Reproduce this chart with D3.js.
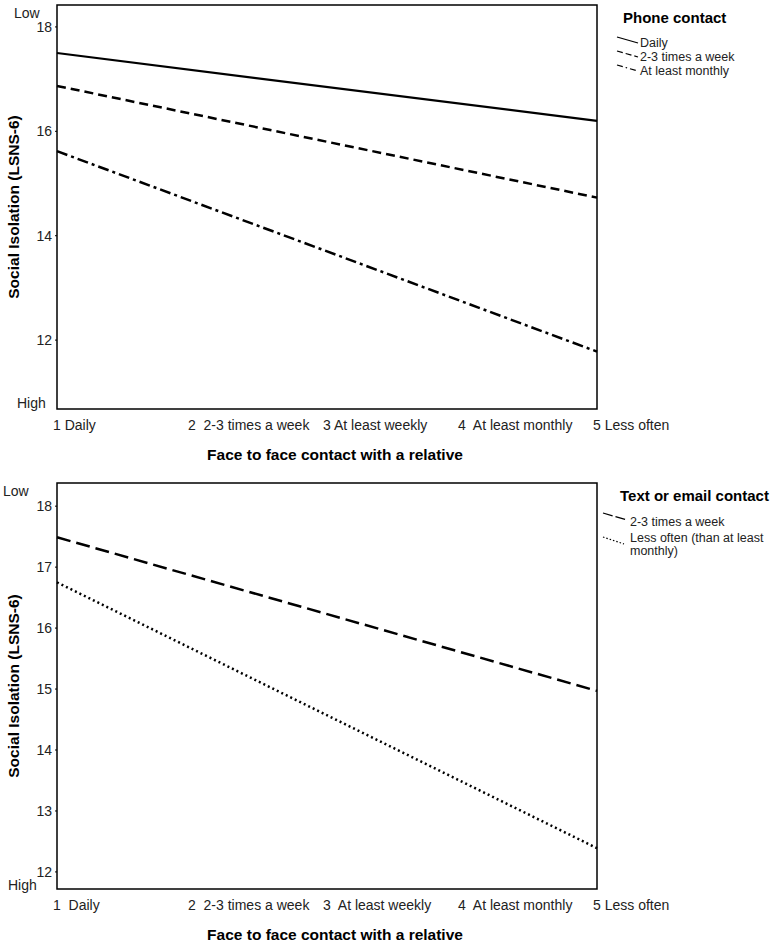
<!DOCTYPE html>
<html><head><meta charset="utf-8">
<script src="https://cdn.jsdelivr.net/npm/d3@7"></script>
<style>body{margin:0;background:#fff}svg{display:block;font-family:"Liberation Sans",Arial,sans-serif}</style>
</head><body>
<script>
const xEnds = [1, 5];
const xTicks = [1, 2, 3, 4, 5];
const xLabelsTop = ["1 Daily", "2  2-3 times a week", "3 At least weekly", "4  At least monthly", "5 Less often"];
const xLabelsBottom = ["1  Daily", "2  2-3 times a week", "3  At least weekly", "4  At least monthly", "5 Less often"];
const yTicksTop = [12, 14, 16, 18];
const yTicksBottom = [12, 13, 14, 15, 16, 17, 18];
const phoneNames = ["Daily", "2-3 times a week", "At least monthly"];
const phoneDaily = [17.50, 16.20];
const phoneWeekly = [16.87, 14.73];
const phoneMonthly = [15.62, 11.78];
const textNames = ["2-3 times a week", "Less often (than at least", "monthly)"];
const textWeekly = [17.49, 14.97];
const textLess = [16.75, 12.39];

const svg = d3.select("body").append("svg").attr("width", 776).attr("height", 943);

function panel(opt) {
  const x = d3.scaleLinear().domain([1, 5]).range([57, 597]);
  const y = d3.scaleLinear().domain(opt.ydom).range([opt.bottom, opt.top]);
  const g = svg.append("g");
  g.append("rect").attr("x", 57).attr("y", opt.top).attr("width", 540).attr("height", opt.bottom - opt.top)
    .attr("fill", "none").attr("stroke", "#000").attr("stroke-width", 1.5);
  g.selectAll(".yt").data(opt.yticks).join("text")
    .attr("x", 52).attr("y", d => y(d) + 5).attr("text-anchor", "end")
    .attr("font-size", 14).attr("fill", "#222").text(d => d);
  g.selectAll(".ytm").data(opt.yticks).join("line")
    .attr("x1", 57).attr("x2", 55).attr("y1", d => y(d)).attr("y2", d => y(d)).attr("stroke", "#000");
  g.append("text").attr("x", opt.lowX).attr("y", opt.top + 13).attr("font-size", 14).attr("fill", "#222").text("Low");
  g.append("text").attr("x", opt.highX).attr("y", opt.highY).attr("font-size", 14).attr("fill", "#222").text("High");
  g.selectAll(".xl").data(xTicks).join("text")
    .attr("x", d => x(d) - 4).attr("y", opt.bottom + 21)
    .attr("font-size", 14).attr("fill", "#222").attr("xml:space", "preserve").style("white-space", "pre")
    .text((d, i) => opt.xlabels[i]);
  g.append("text").attr("x", 335).attr("y", opt.bottom + 51).attr("text-anchor", "middle")
    .attr("font-size", 15.5).attr("font-weight", "bold").text("Face to face contact with a relative");
  const cy = (opt.top + opt.bottom) / 2;
  g.append("text").attr("transform", `translate(19,${cy}) rotate(-90)`).attr("text-anchor", "middle")
    .attr("font-size", 15.5).attr("font-weight", "bold").text("Social Isolation (LSNS-6)");
  const line = d3.line().x((d, i) => x(xEnds[i])).y(d => y(d));
  opt.series.forEach(s => {
    g.append("path").datum(s.values).attr("d", line).attr("fill", "none").attr("stroke", "#000")
      .attr("stroke-width", s.w).attr("stroke-dasharray", s.dash);
  });
  g.append("text").attr("x", opt.legX).attr("y", opt.legTitleY).attr("font-size", 15).attr("font-weight", "bold").text(opt.legTitle);
  opt.legItems.forEach(it => {
    if (it.seg) {
      g.append("line").attr("x1", it.seg[0]).attr("y1", it.seg[1]).attr("x2", it.seg[2]).attr("y2", it.seg[3])
        .attr("stroke", "#000").attr("stroke-width", 1.2).attr("stroke-dasharray", it.dash);
    }
    g.append("text").attr("x", it.tx).attr("y", it.y + 4).attr("font-size", 12.5).attr("fill", "#222").text(it.label);
  });
}

panel({
  top: 5, bottom: 409, ydom: [10.68, 18.42], yticks: yTicksTop, xlabels: xLabelsTop,
  lowX: 14, highX: 17, highY: 408,
  series: [
    {values: phoneDaily, w: 2.2, dash: null},
    {values: phoneWeekly, w: 2.5, dash: "9,5"},
    {values: phoneMonthly, w: 2.5, dash: "11,4,3,4"}
  ],
  legX: 623, legTitleY: 23, legTitle: "Phone contact",
  legItems: [
    {label: phoneNames[0], y: 43, seg: [617, 37, 638, 43], tx: 640, dash: "none"},
    {label: phoneNames[1], y: 57, seg: [617, 51, 638, 57], tx: 640, dash: "6,3"},
    {label: phoneNames[2], y: 71, seg: [617, 65, 638, 71], tx: 640, dash: "6,3,1.5,3"}
  ]
});

panel({
  top: 483, bottom: 889, ydom: [11.72, 18.38], yticks: yTicksBottom, xlabels: xLabelsBottom,
  lowX: 3, highX: 8, highY: 890,
  series: [
    {values: textWeekly, w: 2.5, dash: "14,6"},
    {values: textLess, w: 2.5, dash: "2,3"}
  ],
  legX: 620, legTitleY: 501, legTitle: "Text or email contact",
  legItems: [
    {label: textNames[0], y: 522, seg: [603, 513, 627, 520], tx: 630, dash: "10,3"},
    {label: textNames[1], y: 538, seg: [603, 537, 624, 544], tx: 630, dash: "1.5,2"},
    {label: textNames[2], y: 551, seg: null, tx: 630, dash: null}
  ]
});
</script>
</body></html>
